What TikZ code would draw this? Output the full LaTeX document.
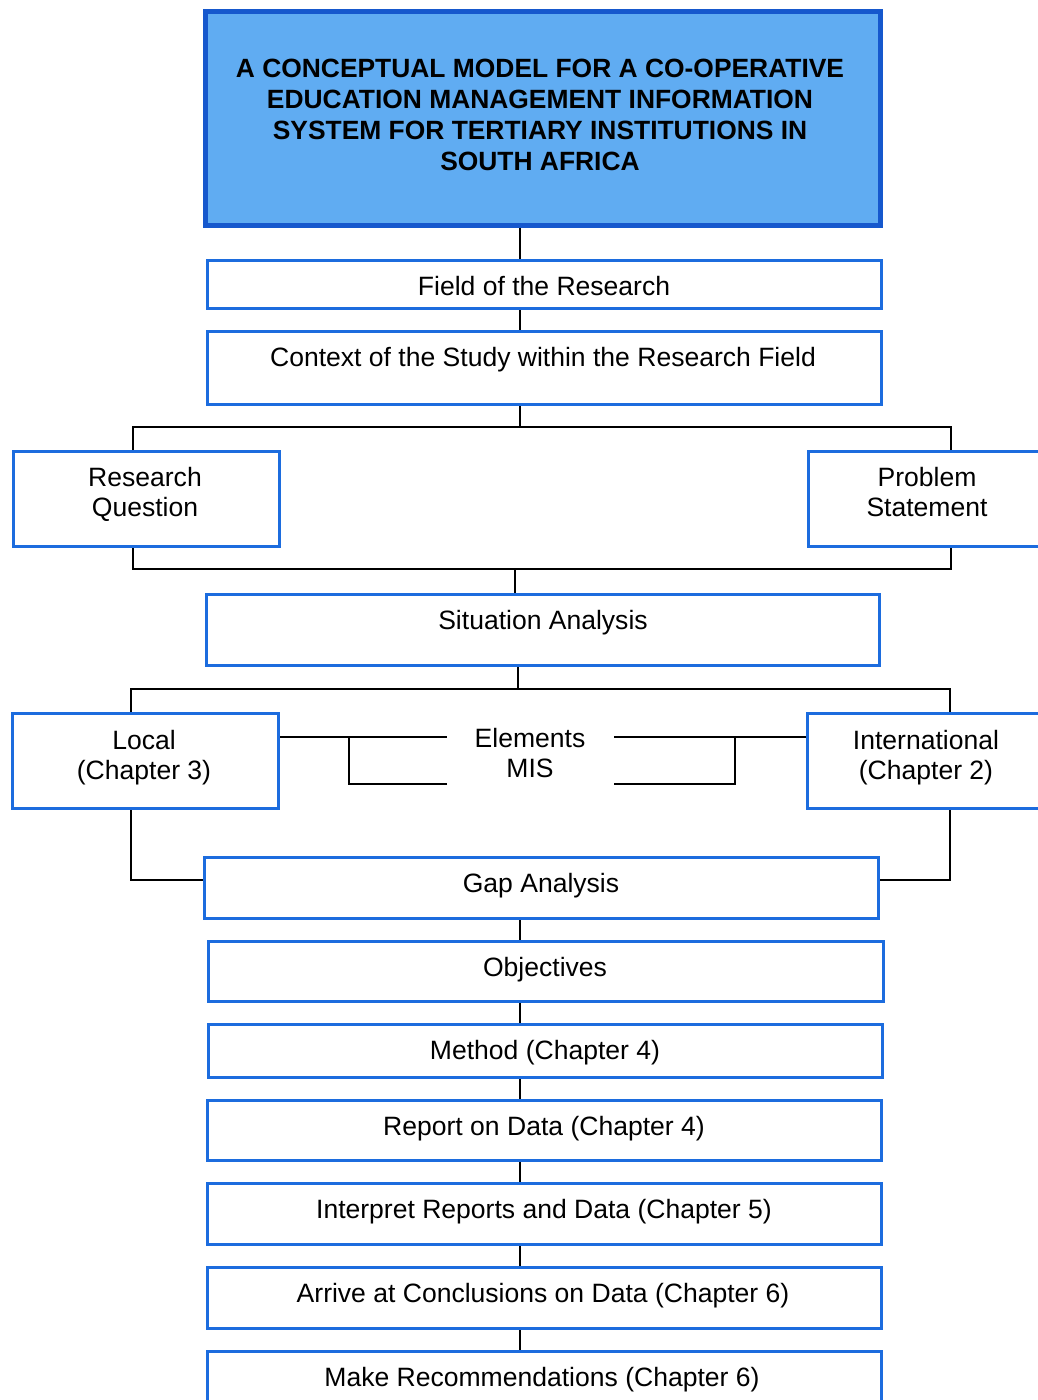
\documentclass[tikz,border=0pt]{standalone}
\usepackage{fontspec}
\setmainfont{Liberation Sans}
\definecolor{boxblue}{RGB}{28,108,222}
\definecolor{titleblue}{RGB}{22,88,205}
\definecolor{titlefill}{RGB}{96,172,242}
\tikzset{
  box/.style={draw=boxblue, line width=2.3pt, fill=white, inner sep=0pt},
  titlebox/.style={draw=titleblue, line width=3.4pt, fill=titlefill, inner sep=0pt},
  txt/.style={inner sep=0pt, font=\fontsize{19.9pt}{22.6pt}\selectfont},
  titletxt/.style={inner sep=0pt, font=\fontsize{19.8pt}{23.2pt}\selectfont\bfseries},
  link/.style={draw=black, line width=1.5pt}
}
% a box from its top-left (x1,y1) to its bottom-right (x2,y2), in pixel units
\newcommand\bx[6][box]{\node[#1, minimum width={(#5-#3)*0.75pt}, minimum height={(#6-#4)*0.75pt}, anchor=north west] (#2) at (#3,#4) {};}
% a label, placed by the baseline of its first line
\newcommand\tx[5][txt]{\node[#1, anchor=base] (#2) at (#3,#4) {\begin{tabular}[t]{@{}c@{}}#5\end{tabular}};}
\begin{document}
\begin{tikzpicture}[x=0.75pt, y=-0.75pt]
\clip (0,0) rectangle (1038,1400);
\fill[white] (0,0) rectangle (1038,1400);

% boxes
\bx[titlebox]{title}{203}{9}{878}{223}
\bx{field}{206}{259}{880}{307}
\bx{context}{206}{330}{880}{403}
\bx{rq}{12}{450}{278}{545}
\bx{ps}{807}{450}{1060}{545}
\bx{situation}{205}{593}{878}{664}
\bx{local}{11}{712}{277}{807}
\bx{intl}{806}{712}{1060}{807}
\bx{gap}{203}{856}{877}{917}
\bx{obj}{207}{940}{882}{1000}
\bx{method}{207}{1023}{881}{1076}
\bx{report}{206}{1099}{880}{1159}
\bx{interp}{206}{1182}{880}{1243}
\bx{arrive}{206}{1266}{880}{1327}
\bx{recs}{206}{1350}{880}{1420}

% labels
\tx[titletxt]{ttitle}{540}{77.5}{A CONCEPTUAL MODEL FOR A CO-OPERATIVE\\EDUCATION MANAGEMENT INFORMATION\\SYSTEM FOR TERTIARY INSTITUTIONS IN\\SOUTH AFRICA}
\tx{tfield}{544}{295.5}{Field of the Research}
\tx{tcontext}{543}{366.5}{Context of the Study within the Research Field}
\tx{trq}{145}{486.5}{Research\\Question}
\tx{tps}{927}{486.5}{Problem\\Statement}
\tx{tsituation}{543}{629.5}{Situation Analysis}
\tx{tlocal}{144}{749.5}{Local\\(Chapter 3)}
\tx{telements}{530}{747.5}{Elements\\MIS}
\tx{tintl}{926}{749.5}{International\\(Chapter 2)}
\tx{tgap}{541}{892.5}{Gap Analysis}
\tx{tobj}{545}{976.5}{Objectives}
\tx{tmethod}{545}{1059.5}{Method (Chapter 4)}
\tx{treport}{544}{1135.5}{Report on Data (Chapter 4)}
\tx{tinterp}{544}{1218.5}{Interpret Reports and Data (Chapter 5)}
\tx{tarrive}{543}{1302.5}{Arrive at Conclusions on Data (Chapter 6)}
\tx{trecs}{542}{1386.5}{Make Recommendations (Chapter 6)}

% junction points
\coordinate (spine) at (520,0);
\coordinate (j1) at (520,427);  \coordinate (j1l) at (133,427); \coordinate (j1r) at (951,427);
\coordinate (j2) at (515,569);  \coordinate (j2l) at (133,569); \coordinate (j2r) at (951,569);
\coordinate (j3) at (518,689);  \coordinate (j3l) at (131,689); \coordinate (j3r) at (950,689);
\coordinate (j4l) at (131,880); \coordinate (j4r) at (950,880);
\coordinate (el1) at (447,737); \coordinate (el2) at (447,784); \coordinate (elc) at (349,784); \coordinate (elt) at (349,737);
\coordinate (er1) at (614,737); \coordinate (er2) at (614,784); \coordinate (erc) at (735,784); \coordinate (ert) at (735,737);

% connectors
\draw[link] (title.south -| spine) -- (field.north -| spine);
\draw[link] (field.south -| spine) -- (context.north -| spine);
\draw[link] (context.south -| j1) -- (j1);
\draw[link] (rq.north -| j1l) -- (j1l) -- (j1r) -- (ps.north -| j1r);
\draw[link] (rq.south -| j2l) -- (j2l) -- (j2r) -- (ps.south -| j2r);
\draw[link] (j2) -- (situation.north -| j2);
\draw[link] (situation.south -| j3) -- (j3);
\draw[link] (local.north -| j3l) -- (j3l) -- (j3r) -- (intl.north -| j3r);
\draw[link] (local.east |- el1) -- (el1);
\draw[link] (el2) -- (elc) -- (elt);
\draw[link] (intl.west |- er1) -- (er1);
\draw[link] (er2) -- (erc) -- (ert);
\draw[link] (local.south -| j4l) -- (j4l) -- (gap.west |- j4l);
\draw[link] (intl.south -| j4r) -- (j4r) -- (gap.east |- j4r);
\draw[link] (gap.south -| spine) -- (obj.north -| spine);
\draw[link] (obj.south -| spine) -- (method.north -| spine);
\draw[link] (method.south -| spine) -- (report.north -| spine);
\draw[link] (report.south -| spine) -- (interp.north -| spine);
\draw[link] (interp.south -| spine) -- (arrive.north -| spine);
\draw[link] (arrive.south -| spine) -- (recs.north -| spine);
\end{tikzpicture}
\end{document}
